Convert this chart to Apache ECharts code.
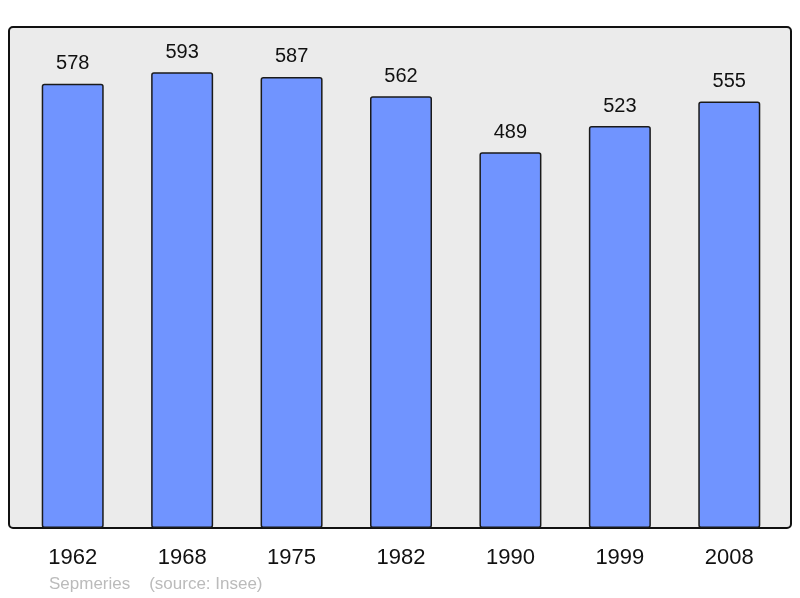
<!DOCTYPE html>
<html>
<head>
<meta charset="utf-8">
<script src="https://cdn.jsdelivr.net/npm/echarts@6/dist/echarts.min.js"></script>
<style>
  html, body { margin: 0; padding: 0; background: #fff; }
  #chart { width: 800px; height: 598px; }
</style>
</head>
<body>
<div id="chart"></div>
<script>
var years = ['1962', '1968', '1975', '1982', '1990', '1999', '2008']
var population = [578, 593, 587, 562, 489, 523, 555]
var footer = 'Sepmeries    (source: Insee)'

var chart = echarts.init(document.getElementById('chart'))

var option = {
    animation: false,
    backgroundColor: '#ffffff',
    textStyle: { fontFamily: 'Liberation Sans, Arial, sans-serif' },
    graphic: [
        {
            type: 'rect',
            z: -10,
            shape: { x: 9, y: 27, width: 782, height: 501, r: 4 },
            style: { fill: '#ebebeb', stroke: '#111', lineWidth: 2 }
        },
        {
            type: 'text',
            left: 49,
            top: 576,
            style: { text: footer, fill: '#bbbbbb', fontSize: 17, fontFamily: 'Liberation Sans, Arial, sans-serif' }
        }
    ],
    grid: { left: 18, right: 16, top: 27, bottom: 70 },
    xAxis: {
        type: 'category',
        data: years,
        axisLine: { show: false },
        axisTick: { show: false },
        axisLabel: { fontSize: 22, color: '#111', margin: 19 }
    },
    yAxis: {
        type: 'value',
        min: 0,
        max: 652,
        show: false,
        splitLine: { show: false }
    },
    series: [
        {
            type: 'bar',
            data: population,
            barWidth: 62,
            itemStyle: {
                color: '#7094ff',
                borderColor: '#1a1a1a',
                borderWidth: 1.5,
                borderRadius: 2
            },
            label: {
                show: true,
                position: 'top',
                distance: 10,
                fontSize: 20,
                color: '#111'
            }
        }
    ]
}
chart.setOption(option)
</script>
</body>
</html>
